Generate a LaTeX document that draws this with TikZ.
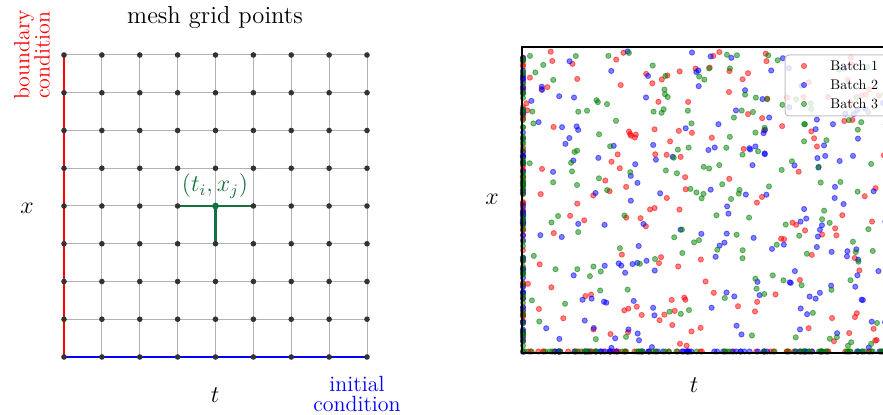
\documentclass[tikz,border=0pt]{standalone}
\definecolor{mygreen}{RGB}{20,112,62}
\definecolor{dotc}{RGB}{50,50,50}
\definecolor{sred}{RGB}{255,0,0}
\definecolor{sblue}{RGB}{0,0,255}
\definecolor{sgreen}{RGB}{0,128,0}
\newcommand{\legtxt}[1]{\scalebox{0.7}{\fontsize{10}{12}\selectfont #1}}
\tikzset{
  gridline/.style={draw=black!30, line width=0.5pt},
  gdot/.style={circle, fill=dotc, inner sep=0pt, minimum size=2.8pt},
  bcline/.style={draw=red, line width=1.2pt},
  icline/.style={draw=blue, line width=1.2pt},
  hiline/.style={draw=mygreen, line width=1.2pt},
  spt/.style={fill=#1, draw=#1, line width=0.45pt, opacity=0.5},
  frame/.style={draw=black, line width=0.75pt},
  lab/.style={inner sep=0pt, font=\fontsize{12}{14}\selectfont},
  legtext/.style={anchor=west, inner sep=0pt}
}
\begin{document}
\begin{tikzpicture}[x=0.5pt,y=-0.5pt]
\useasboundingbox (0,0) rectangle (883,415);
% ---------- left: mesh grid ----------
\foreach \i in {0,...,8}{
  \foreach \j in {0,...,8}{
    \coordinate (c\i-\j) at ({64+37.875*\i},{55+37.75*\j});
  }
}
\foreach \i in {0,...,8}{
  \draw[gridline] (c\i-0) -- (c\i-8);
  \draw[gridline] (c0-\i) -- (c8-\i);
}
\draw[bcline] (c0-0) -- (c0-8);
\draw[icline] (c0-8) -- (c8-8);
\draw[hiline] (c3-4) -- (c5-4);
\draw[hiline] (c4-4) -- (c4-5);
\foreach \i in {0,...,8}{
  \foreach \j in {0,...,8}{
    \node[gdot] (d\i-\j) at (c\i-\j) {};
  }
}
\node[gdot, minimum size=3.4pt, fill=mygreen] (hi) at (c4-4) {};
\node[lab, text=mygreen] (hilab) at (215,186) {$(t_i,x_j)$};
\node[inner sep=0pt, font=\fontsize{12.3}{14}\selectfont] (title) at (215,17) {mesh grid points};
\node[inner sep=0pt, text=red, rotate=90, align=center, font=\fontsize{11}{10.2}\selectfont] (bc) at (32,55) {boundary\\condition};
\node[inner sep=0pt, text=blue, align=center, font=\fontsize{11}{9.8}\selectfont] (ic) at (357,394) {initial\\condition};
\node[lab] (xl) at (27,208) {$x$};
\node[lab] (tl) at (215,395) {$t$};
% ---------- right: scatter ----------
\node[lab] (xr) at (492,199) {$x$};
\node[lab] (tr) at (694,385) {$t$};
\begin{scope}
\clip (515,40) rectangle (883,360);
\pgfmathsetseed{2718}
\foreach \c in {sred,sblue,sgreen}{
  \foreach \k in {1,...,165}{
    \pgfmathsetmacro\px{526+375*rnd}
    \pgfmathsetmacro\py{51+298*rnd}
    \path[spt=\c] (\px,\py) circle (1.3pt);
  }
  \foreach \k in {1,...,60}{
    \pgfmathsetmacro\py{50+302*rnd}
    \path[spt=\c] (523,\py) circle (1.3pt);
  }
  \foreach \k in {1,...,55}{
    \pgfmathsetmacro\px{524+376*rnd}
    \path[spt=\c] (\px,351.5) circle (1.3pt);
  }
}
\coordinate (fTL) at (522,47);
\coordinate (fTR) at (900,47);
\coordinate (fBL) at (522,353);
\coordinate (fBR) at (900,353);
\draw[frame] (fTR) -- (fTL) -- (fBL) -- (fBR);
% legend
\draw[draw=black!25, fill=white, fill opacity=0.8, line width=0.5pt, rounded corners=2pt] (785,55) rectangle (905,116);
\path[spt=sred] (804,66) circle (1.3pt);
\path[spt=sblue] (804,85) circle (1.3pt);
\path[spt=sgreen] (804,104) circle (1.3pt);
\node[legtext] (b1) at (830,66) {\legtxt{Batch 1}};
\node[legtext] (b2) at (830,85) {\legtxt{Batch 2}};
\node[legtext] (b3) at (830,104) {\legtxt{Batch 3}};
\end{scope}
\end{tikzpicture}
\end{document}
